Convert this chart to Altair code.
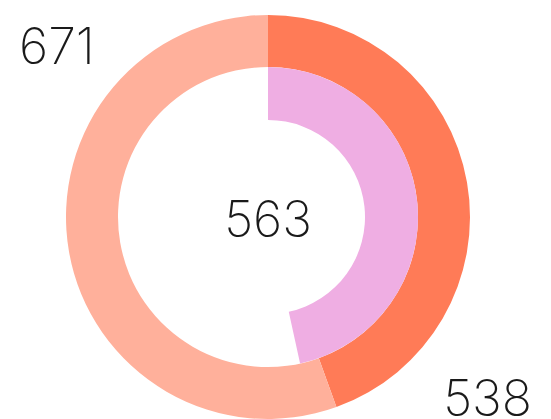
import altair as alt
import pandas as pd

outer_labels = ["538", "671"]
outer_values = [538, 671]
outer_colors = ["#FF7B57", "#FFB09B"]

inner_value = 563
inner_labels = ["563", "rest"]
inner_values = [inner_value, sum(outer_values) - inner_value]
inner_colors = ["#EFAEE3", "rgba(0,0,0,0)"]

outer_df = pd.DataFrame({"cat": outer_labels, "value": outer_values, "order": [0, 1]})
inner_df = pd.DataFrame({"cat": inner_labels, "value": inner_values, "order": [0, 1]})

CX, CY = 260, 209

outer = alt.Chart(outer_df).mark_arc(radius=202, innerRadius=150, strokeWidth=0).encode(
    theta=alt.Theta("value:Q", stack=True),
    order=alt.Order("order:Q"),
    color=alt.Color("cat:N", scale=alt.Scale(domain=outer_labels, range=outer_colors), legend=None),
    x=alt.value(CX), y=alt.value(CY),
)

inner = alt.Chart(inner_df).mark_arc(radius=150, innerRadius=97, strokeWidth=0).encode(
    theta=alt.Theta("value:Q", stack=True),
    order=alt.Order("order:Q"),
    color=alt.Color("cat:N", scale=alt.Scale(domain=inner_labels, range=inner_colors), legend=None),
    x=alt.value(CX), y=alt.value(CY),
)

font = "Inter"
txt_style = dict(font=font, fontSize=50, fontWeight=200, color="#1a1a1a")

t1 = alt.Chart(pd.DataFrame({"t": [str(outer_values[1])]})).mark_text(
    align="left", baseline="alphabetic", **txt_style
).encode(text="t:N", x=alt.value(11), y=alt.value(56))

t2 = alt.Chart(pd.DataFrame({"t": [str(outer_values[0])]})).mark_text(
    align="right", baseline="alphabetic", **txt_style
).encode(text="t:N", x=alt.value(524), y=alt.value(408))

t3 = alt.Chart(pd.DataFrame({"t": [str(inner_value)]})).mark_text(
    align="center", baseline="alphabetic", **txt_style
).encode(text="t:N", x=alt.value(260), y=alt.value(229))

chart = alt.layer(outer, inner, t1, t2, t3).resolve_scale(
    theta="independent", color="independent"
).properties(
    width=535, height=411, autosize=alt.AutoSizeParams(type="none"), padding=0
).configure_view(stroke=None)

chart.save("out.html", embed_options={"renderer": "svg", "actions": False})
